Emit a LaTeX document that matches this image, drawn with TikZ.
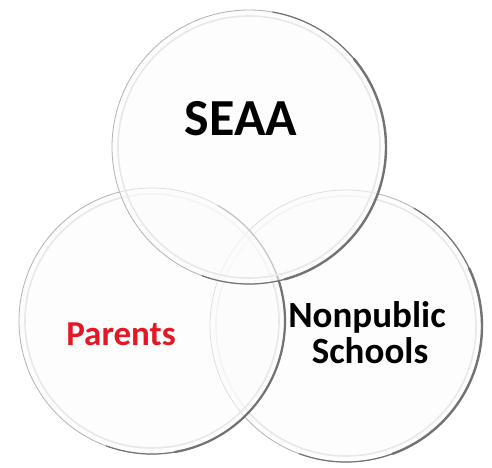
\documentclass[tikz,border=0pt]{standalone}
\usepackage{fontspec}
\setmainfont{Carlito}
\usepackage{xcolor}
\definecolor{parentred}{RGB}{228,24,36}
\tikzset{
	ring/.style={circle, inner sep=0pt, minimum size=#1, draw=gray!60, line width=0.8pt,
			fill=gray!2, fill opacity=0.6},
	glint/.style={draw=gray!18, line width=1.6pt},
	rimshade/.style={draw=black!55, line width=#1, line cap=round},
	label/.style={font=\bfseries, align=center, inner sep=0pt}
}

\begin{document}
\begin{tikzpicture}[x=1pt, y=1pt]
		% Frame
		\useasboundingbox (0,0) rectangle (492,-467);

		% Circles (back to front)
		\node[ring=272pt] (nonpublic) at (346,-326) {};
		\draw[glint] (nonpublic.center) circle (130pt);
		\draw[rimshade=1.2pt] (nonpublic.center) ++(60:136pt) arc[start angle=60, end angle=-110, radius=136pt];
		\draw[rimshade=2.4pt] (nonpublic.center) ++(25:136pt) arc[start angle=25, end angle=-70, radius=136pt];

		\node[ring=266pt] (parents) at (152,-321) {};
		\draw[glint] (parents.center) circle (127pt);
		\draw[rimshade=1.2pt] (parents.center) ++(60:133pt) arc[start angle=60, end angle=-110, radius=133pt];
		\draw[rimshade=2.2pt] (parents.center) ++(20:133pt) arc[start angle=20, end angle=-80, radius=133pt];

		\node[ring=274pt] (seaa) at (249,-147) {};
		\draw[glint] (seaa.center) circle (131pt);
		\draw[rimshade=1.2pt] (seaa.center) ++(80:137pt) arc[start angle=80, end angle=-110, radius=137pt];
		\draw[rimshade=2.4pt] (seaa.center) ++(40:137pt) arc[start angle=40, end angle=-75, radius=137pt];

		% Labels
		\node[label, font=\fontsize{52}{52}\selectfont\bfseries, anchor=base] (seaatext) at (241,-135) {SEAA};
		\node[label, font=\fontsize{35}{35}\selectfont\bfseries, text=parentred, anchor=base] (parentstext) at (121,-345) {Parents};
		\node[label, font=\fontsize{37}{37}\selectfont\bfseries, anchor=base] (nonpublictext) at (367,-327) {Nonpublic};
		\node[label, font=\fontsize{37}{37}\selectfont\bfseries, anchor=base] (schoolstext) at (370,-363) {Schools};
	\end{tikzpicture}
\end{document}
